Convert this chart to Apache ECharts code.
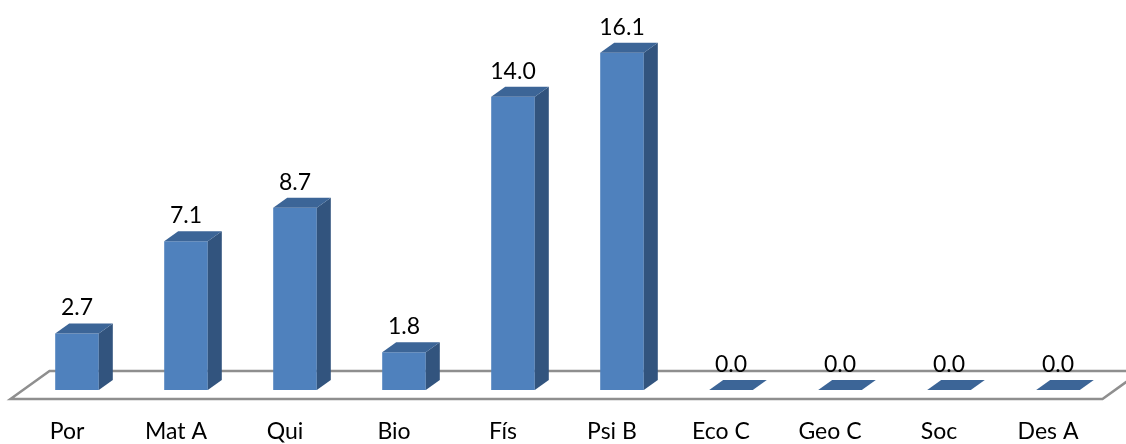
<!DOCTYPE html>
<html>
<head>
<meta charset="utf-8">
<script src="https://cdn.jsdelivr.net/npm/echarts@6/dist/echarts.min.js"></script>
<style>
  html, body { margin: 0; padding: 0; background: #ffffff; }
  #chart { width: 1126px; height: 444px; }
</style>
</head>
<body>
<div id="chart"></div>
<script>
// Subjects and their values
const categories = ['Por', 'Mat A', 'Qui', 'Bio', 'Fís', 'Psi B', 'Eco C', 'Geo C', 'Soc', 'Des A'];
const values = [2.7, 7.1, 8.7, 1.8, 14.0, 16.1, 0.0, 0.0, 0.0, 0.0];

const FONT = 'Lato';
const DEPTH_X = 14;   // 3D extrusion of each bar
const DEPTH_Y = -10;

const chart = echarts.init(document.getElementById('chart'), null, { renderer: 'canvas' });

// Flat 3D floor under the bars
function renderFloor(params, api) {
  const cs = params.coordSys;
  const baseY = cs.y + cs.height;
  const fl = [cs.x - 12, baseY + 9];
  const fr = [cs.x + cs.width - 10, baseY + 9];
  const br = [fr[0] + 39, fr[1] - 28];
  const bl = [fl[0] + 39, fl[1] - 28];
  return {
    type: 'polygon',
    shape: { points: [fl, fr, br, bl] },
    style: { fill: '#ffffff', stroke: '#8f8f8f', lineWidth: 2.5 },
    z2: 0
  };
}

// Extruded bar: front face, right side, top face, value label
function renderBar(params, api) {
  const idx = api.value(0);
  const val = api.value(1);
  const base = api.coord([idx, 0]);
  const top = api.coord([idx, val]);
  const band = api.size([1, 0])[0];
  const w = band * 0.4;
  const x0 = base[0] - w / 2;
  const x1 = base[0] + w / 2;
  const yTop = top[1];
  const yBase = base[1];
  const children = [];
  if (yBase - yTop > 0.5) {
    children.push({
      type: 'rect',
      shape: { x: x0, y: yTop, width: w, height: yBase - yTop },
      style: { fill: '#4f81bd' }
    });
    children.push({
      type: 'polygon',
      shape: { points: [[x1, yTop], [x1 + DEPTH_X, yTop + DEPTH_Y], [x1 + DEPTH_X, yBase + DEPTH_Y], [x1, yBase]] },
      style: { fill: '#32547e' }
    });
  }
  children.push({
    type: 'polygon',
    shape: { points: [[x0, yTop], [x0 + DEPTH_X, yTop + DEPTH_Y], [x1 + DEPTH_X, yTop + DEPTH_Y], [x1, yTop]] },
    style: { fill: '#3c6597' }
  });
  children.push({
    type: 'text',
    style: {
      text: val.toFixed(1),
      x: base[0],
      y: yTop - 14,
      align: 'center',
      verticalAlign: 'bottom',
      fill: '#000000',
      font: '23px ' + FONT
    }
  });
  return { type: 'group', children: children };
}

chart.setOption({
  backgroundColor: '#ffffff',
  animation: false,
  grid: { left: 22.5, right: 13.5, top: 13, bottom: 54, containLabel: false },
  xAxis: {
    type: 'category',
    data: categories,
    axisLine: { show: false },
    axisTick: { show: false },
    axisLabel: {
      margin: 30,
      color: '#000000',
      fontFamily: FONT,
      fontSize: 23,
      padding: [0, 20, 0, 0]
    }
  },
  yAxis: {
    type: 'value',
    min: 0,
    max: 18,
    show: false,
    splitLine: { show: false }
  },
  series: [
    {
      type: 'custom',
      renderItem: renderFloor,
      data: [[0, 0]],
      silent: true,
      z: 1
    },
    {
      type: 'custom',
      renderItem: renderBar,
      data: values.map((v, i) => [i, v]),
      encode: { x: 0, y: 1 },
      z: 2
    }
  ]
});
</script>
</body>
</html>
